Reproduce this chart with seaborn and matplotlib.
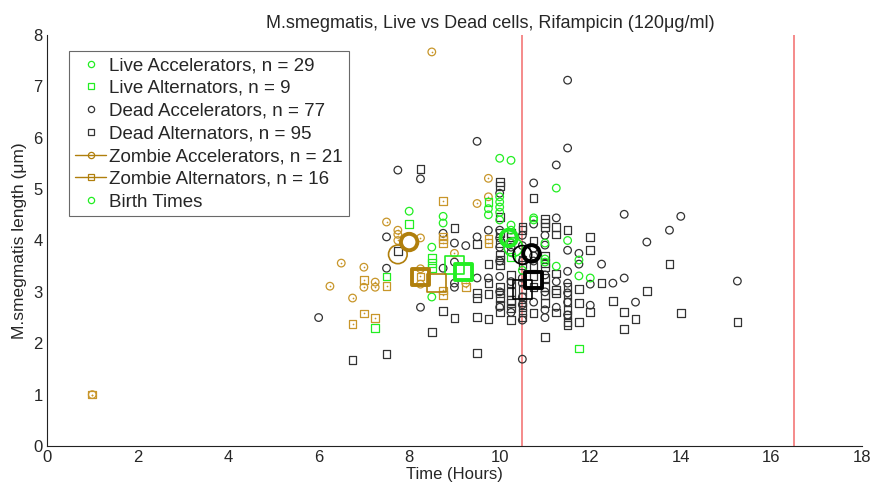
import matplotlib
matplotlib.use("Agg")
import matplotlib.pyplot as plt
from matplotlib.lines import Line2D
import seaborn as sns
import pandas as pd

# ---------------- data (Time in hours, length in µm) ----------------
live_acc_t = [8.0, 8.5, 8.5, 8.75, 8.75, 10.0, 10.25, 10.0, 10.0, 10.0, 10.0, 10.25, 10.5, 10.75,
              10.75, 11.0, 11.0, 11.25, 11.25, 11.5, 11.75, 11.75, 12.0, 10.25, 9.75, 10.0, 9.75,
              11.0, 10.25]
live_acc_L = [4.57, 3.87, 2.9, 4.47, 4.34, 5.6, 5.56, 4.85, 4.75, 4.65, 4.55, 4.3, 3.42, 4.44,
              4.4, 3.64, 3.58, 5.02, 3.5, 4.0, 3.62, 3.31, 3.27, 4.2, 4.62, 4.4, 4.5,
              3.95, 3.95]

live_alt_t = [7.5, 7.25, 8.0, 8.5, 8.5, 8.5, 9.75, 10.25, 11.75]
live_alt_L = [3.3, 2.3, 4.32, 3.66, 3.56, 3.46, 4.75, 3.68, 1.9]

dead_acc_t = [6.0, 7.5, 7.5, 7.75, 8.25, 8.25, 8.75, 8.75, 9.0, 9.0, 9.0, 9.5, 9.5, 9.5, 9.75,
              9.75, 10.0, 10.0, 10.0, 10.0, 10.25, 10.25, 10.25, 10.25, 10.5, 10.5, 10.5, 10.5,
              10.5, 10.5, 10.75, 10.75, 10.75, 11.0, 11.0, 11.0, 11.25, 11.25, 11.5, 11.5, 11.5,
              11.5, 11.5, 11.75, 11.75, 12.0, 12.0, 12.25, 12.5, 12.75, 12.75, 13.0, 13.25, 13.75,
              14.0, 15.25, 10.0, 10.0, 10.0, 10.25, 10.5, 10.5, 10.5, 10.75, 10.75, 10.75, 11.0,
              11.0, 11.25, 11.25, 11.5, 11.5, 11.5, 9.25, 9.0, 10.0, 11.0]
dead_acc_L = [2.5, 4.07, 3.46, 5.37, 5.2, 2.7, 4.14, 3.46, 3.58, 3.17, 3.09, 5.93, 4.07, 3.27, 4.2,
              3.27, 4.92, 4.2, 3.87, 3.3, 3.95, 3.87, 3.77, 2.6, 4.1, 3.27, 3.17, 2.75,
              2.45, 1.69, 5.12, 4.32, 3.7, 4.1, 3.91, 3.33, 5.47, 4.44, 7.12, 5.8, 3.81,
              3.17, 2.98, 3.75, 3.54, 3.15, 2.74, 3.54, 3.17, 4.51, 3.27, 2.8, 3.97, 4.2,
              4.47, 3.21, 3.6, 3.0, 4.05, 3.2, 3.9, 3.6, 2.9, 3.85, 3.6, 2.8, 3.0,
              2.5, 3.2, 2.7, 3.4, 2.8, 2.55, 3.9, 3.95, 2.7, 2.65]

dead_alt_t = [6.75, 7.5, 7.75, 8.25, 8.5, 8.75, 9.0, 9.0, 9.5, 9.5, 9.5, 9.5, 9.5, 9.75, 9.75, 9.75,
              10.0, 10.0, 10.0, 10.0, 10.0, 10.0, 10.0, 10.0, 10.0, 10.0, 10.0,
              10.25, 10.25, 10.25, 10.25, 10.25, 10.25, 10.25, 10.25,
              10.5, 10.5, 10.5, 10.5, 10.5, 10.5, 10.5, 10.5, 10.5,
              10.75, 10.75, 10.75, 10.75, 10.75,
              11.0, 11.0, 11.0, 11.0, 11.0, 11.0, 11.0, 11.0, 11.0, 11.0,
              11.25, 11.25, 11.25, 11.25, 11.25, 11.25,
              11.5, 11.5, 11.5, 11.5, 11.5, 11.5, 11.5, 11.5,
              11.75, 11.75, 11.75, 12.0, 12.0, 12.0, 12.25, 12.5, 12.75, 12.75, 13.0, 13.25,
              13.75, 14.0, 15.25, 10.0, 10.25, 10.5, 10.75, 11.0, 10.0, 9.75]
dead_alt_L = [1.67, 1.79, 3.79, 5.39, 2.22, 2.63, 4.24, 2.49, 3.93, 2.98, 2.88, 2.51, 1.81, 3.17, 2.96, 2.47,
              5.14, 5.06, 4.46, 4.14, 3.72, 3.62, 3.52, 3.09, 2.98, 2.88, 2.6,
              4.14, 4.07, 3.33, 3.17, 2.84, 2.78, 2.68, 2.45,
              4.26, 4.2, 3.62, 3.52, 2.9, 2.8, 2.7, 2.6, 2.5,
              4.83, 3.3, 3.1, 2.59, 3.5,
              4.42, 4.34, 4.26, 3.56, 3.48, 3.27, 3.09, 2.94, 2.78, 2.12,
              4.26, 4.12, 3.36, 3.04, 2.98, 2.6,
              4.2, 3.1, 2.95, 2.8, 2.65, 2.55, 2.41, 2.35,
              3.05, 2.78, 2.41, 4.07, 3.81, 2.61, 3.17, 2.82, 2.61, 2.28, 2.47, 3.02,
              3.54, 2.59, 2.41, 3.95, 3.0, 3.05, 4.0, 3.7, 2.75, 3.54]

zomb_acc_t = [1.0, 6.25, 6.5, 6.75, 7.0, 7.0, 7.25, 7.25, 7.5, 7.75, 7.75, 7.75, 8.25, 8.25, 8.25,
              8.5, 9.0, 9.25, 9.5, 9.75, 9.75]
zomb_acc_L = [1.0, 3.11, 3.56, 2.88, 3.48, 3.09, 3.19, 3.09, 4.36, 4.2, 4.12, 4.0, 4.05, 3.45, 3.15,
              7.67, 3.75, 3.17, 4.72, 5.21, 4.85]

zomb_alt_t = [1.0, 6.75, 7.0, 7.0, 7.25, 7.5, 8.25, 8.75, 8.75, 8.75, 8.75, 8.75, 9.75, 9.75, 9.25, 8.75]
zomb_alt_L = [1.0, 2.37, 3.23, 2.58, 2.49, 3.11, 3.3, 4.77, 4.08, 4.02, 3.03, 2.94, 4.03, 3.95, 3.1, 3.95]

# summary markers (mean: thick, median: thin)
mean_t = {"live_acc": 10.2, "live_alt": 9.2, "dead_acc": 10.7, "dead_alt": 10.75,
          "zomb_acc": 8.0, "zomb_alt": 8.25}
mean_L = {"live_acc": 4.05, "live_alt": 3.39, "dead_acc": 3.75, "dead_alt": 3.23,
          "zomb_acc": 3.97, "zomb_alt": 3.29}
med_t = {"live_acc": 10.3, "live_alt": 9.0, "dead_acc": 10.5, "dead_alt": 10.5,
         "zomb_acc": 7.75, "zomb_alt": 8.6}
med_L = {"live_acc": 3.87, "live_alt": 3.52, "dead_acc": 3.72, "dead_alt": 3.04,
         "zomb_acc": 3.73, "zomb_alt": 3.17}

drug_times = [10.5, 16.5]

legend_labels = ["Live Accelerators, n = 29", "Live Alternators, n = 9",
                 "Dead Accelerators, n = 77", "Dead Alternators, n = 95",
                 "Zombie Accelerators, n = 21", "Zombie Alternators, n = 16", "Birth Times"]

# ---------------- style ----------------
sns.set_style("white")
plt.rcParams['font.family'] = ['Liberation Sans', 'DejaVu Sans']
plt.rcParams['xtick.direction'] = 'in'
plt.rcParams['ytick.direction'] = 'in'

GREEN = "#22ee22"
DARK = "#333333"
ZOMB = "#c8962a"
ZOMB_D = "#b07f0c"
RED = "#f58a8a"

fig = plt.figure(figsize=(8.8, 4.92), dpi=100)
ax = fig.add_axes([0.0534, 0.0935, 0.926, 0.8354])

def hollow(t, L, marker, color, s, lw, dot=False):
    df = pd.DataFrame({"t": t, "L": L})
    sns.scatterplot(data=df, x="t", y="L", marker=marker, s=s, color=color, ax=ax,
                    legend=False, zorder=3)
    coll = ax.collections[-1]
    coll.set_facecolor("none")
    coll.set_edgecolor(color)
    coll.set_linewidth(lw)
    if dot:
        sns.scatterplot(data=df, x="t", y="L", marker="o", s=1.5, color=color, ax=ax,
                        legend=False, linewidth=0, zorder=3)

for x in drug_times:
    ax.axvline(x, color=RED, lw=1.4, zorder=1)

hollow(dead_alt_t, dead_alt_L, "s", DARK, 30, 0.9)
hollow(dead_acc_t, dead_acc_L, "o", DARK, 30, 0.9)
hollow(zomb_alt_t, zomb_alt_L, "s", ZOMB, 30, 0.9, dot=True)
hollow(zomb_acc_t, zomb_acc_L, "o", ZOMB, 30, 0.9, dot=True)
hollow(live_alt_t, live_alt_L, "s", GREEN, 30, 0.9)
hollow(live_acc_t, live_acc_L, "o", GREEN, 30, 0.9)

groups = [("live_acc", "o", GREEN), ("live_alt", "s", GREEN), ("dead_acc", "o", "black"),
          ("dead_alt", "s", "black"), ("zomb_acc", "o", ZOMB_D), ("zomb_alt", "s", ZOMB_D)]
for key, m, c in groups:
    hollow([med_t[key]], [med_L[key]], m, c, 180, 1.2)
    hollow([mean_t[key]], [mean_L[key]], m, c, 140, 2.8)

ax.set_xlim(0, 18)
ax.set_ylim(0, 8)
ax.set_xticks(range(0, 19, 2))
ax.set_yticks(range(0, 9))
ax.tick_params(labelsize=12, length=5, width=0.8, color="#222222", pad=3)
for side in ["top", "right"]:
    ax.spines[side].set_visible(False)
for side in ["left", "bottom"]:
    ax.spines[side].set_color("#222222")
    ax.spines[side].set_linewidth(0.8)

ax.set_xlabel("Time (Hours)", fontsize=12, labelpad=1)
ax.set_ylabel("M.smegmatis length (\u03bcm)", fontsize=12.5, labelpad=5)
ax.set_title("M.smegmatis, Live vs Dead cells, Rifampicin (120\u03bcg/ml)", fontsize=13, pad=5,
             x=0.5436)

handles = [
    Line2D([], [], ls="none", marker="o", mfc="none", mec=GREEN, ms=4.5, mew=0.9),
    Line2D([], [], ls="none", marker="s", mfc="none", mec=GREEN, ms=4.5, mew=0.9),
    Line2D([], [], ls="none", marker="o", mfc="none", mec=DARK, ms=4.5, mew=0.9),
    Line2D([], [], ls="none", marker="s", mfc="none", mec=DARK, ms=4.5, mew=0.9),
    Line2D([], [], ls="-", color=ZOMB_D, lw=1.0, marker="o", mfc="none", mec=ZOMB_D, ms=4.5, mew=0.9),
    Line2D([], [], ls="-", color=ZOMB_D, lw=1.0, marker="s", mfc="none", mec=ZOMB_D, ms=4.5, mew=0.9),
    Line2D([], [], ls="none", marker="o", mfc="none", mec=GREEN, ms=4.5, mew=0.9),
]
leg = ax.legend(handles, legend_labels, loc="upper left", bbox_to_anchor=(0.027, 0.96),
                borderaxespad=0, fontsize=13.5, frameon=True, fancybox=False,
                handlelength=1.7, handletextpad=0.15, labelspacing=0.3, borderpad=0.3)
leg.get_frame().set_edgecolor("#444444")
leg.get_frame().set_linewidth(0.8)

fig.savefig("out.png", dpi=100)
